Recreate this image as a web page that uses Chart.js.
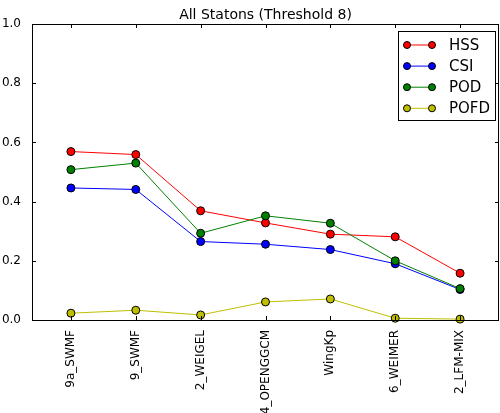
<!DOCTYPE html>
<html>
<head>
<meta charset="utf-8">
<script src="https://cdn.jsdelivr.net/npm/chart.js@4/dist/chart.umd.min.js"></script>
<style>
  html, body { margin: 0; padding: 0; background: #fff; }
  #wrap { width: 500px; height: 413px; }
</style>
</head>
<body>
<div id="wrap"><canvas id="c" width="500" height="413"></canvas></div>
<script>
var models = ["9a_SWMF", "9_SWMF", "2_WEIGEL", "4_OPENGGCM", "WingKp", "6_WEIMER", "2_LFM-MIX"];
var hss  = [0.569, 0.559, 0.369, 0.328, 0.290, 0.281, 0.158];
var csi  = [0.446, 0.441, 0.265, 0.256, 0.238, 0.190, 0.103];
var pod  = [0.508, 0.530, 0.293, 0.352, 0.327, 0.200, 0.106];
var pofd = [0.023, 0.033, 0.017, 0.061, 0.071, 0.006, 0.003];
var yTicks = [0.0, 0.2, 0.4, 0.6, 0.8, 1.0];
var title = "All Statons (Threshold 8)";

var FONT = "DejaVu Sans";

function points(vals) {
  return vals.map(function(v, i) { return {x: i, y: v}; });
}

function series(label, vals, color, order) {
  return {
    label: label,
    data: points(vals),
    borderColor: color,
    backgroundColor: color,
    borderWidth: 1,
    pointRadius: 4,
    pointBackgroundColor: color,
    pointBorderColor: "#000",
    pointBorderWidth: 1,
    tension: 0,
    clip: false,
    order: order
  };
}

var datasets = [
  series("HSS", hss, "#ff0000", 4),
  series("CSI", csi, "#0000ff", 3),
  series("POD", pod, "#008000", 2),
  series("POFD", pofd, "#bfbf00", 1)
];

// frame, inward ticks, title and legend the matplotlib way
var decor = {
  id: "decor",
  afterDraw: function(chart) {
    var ctx = chart.ctx, a = chart.chartArea;
    var xs = chart.scales.x, ys = chart.scales.y;
    ctx.save();
    ctx.strokeStyle = "#000";
    ctx.lineWidth = 1;
    ctx.beginPath();
    yTicks.forEach(function(t) {
      var y = Math.round(ys.getPixelForValue(t)) + 0.5;
      ctx.moveTo(a.left, y); ctx.lineTo(a.left + 4, y);
      ctx.moveTo(a.right, y); ctx.lineTo(a.right - 4, y);
    });
    models.forEach(function(m, i) {
      var x = Math.round(xs.getPixelForValue(i)) + 0.5;
      ctx.moveTo(x, a.bottom); ctx.lineTo(x, a.bottom - 4);
      ctx.moveTo(x, a.top); ctx.lineTo(x, a.top + 4);
    });
    ctx.stroke();
    ctx.strokeRect(Math.round(a.left) + 0.5, Math.round(a.top) + 0.5,
      Math.round(a.right - a.left) - 1, Math.round(a.bottom - a.top));

    ctx.fillStyle = "#000";
    ctx.font = "14px '" + FONT + "'";
    ctx.textAlign = "center";
    ctx.textBaseline = "alphabetic";
    ctx.fillText(title, (a.left + a.right) / 2, a.top - 5);

    // legend box
    var lx = 398.5, ly = 31.5, lw = 97, lh = 89;
    ctx.fillStyle = "#fff";
    ctx.fillRect(lx, ly, lw, lh);
    ctx.strokeRect(lx, ly, lw, lh);
    ctx.font = "15px '" + FONT + "'";
    ctx.textAlign = "left";
    ctx.textBaseline = "middle";
    datasets.forEach(function(ds, i) {
      var y = 45 + i * 21.1;
      ctx.strokeStyle = ds.borderColor;
      ctx.beginPath();
      ctx.moveTo(407, y); ctx.lineTo(432, y);
      ctx.stroke();
      [407, 432].forEach(function(px) {
        ctx.beginPath();
        ctx.arc(px, y, 3.5, 0, Math.PI * 2);
        ctx.fillStyle = ds.borderColor;
        ctx.fill();
        ctx.strokeStyle = "#000";
        ctx.stroke();
      });
      ctx.fillStyle = "#000";
      ctx.fillText(ds.label, 449, y + 1);
    });
    ctx.restore();
  }
};

new Chart(document.getElementById("c"), {
  type: "line",
  data: { datasets: datasets },
  options: {
    responsive: false,
    animation: false,
    events: [],
    layout: { autoPadding: false, padding: { top: 24, right: 1, left: 0, bottom: 0 } },
    plugins: { legend: { display: false }, title: { display: false }, tooltip: { enabled: false } },
    scales: {
      x: {
        type: "linear",
        min: -0.6,
        max: 6.6,
        grid: { display: false },
        border: { display: false },
        afterBuildTicks: function(scale) {
          scale.ticks = models.map(function(m, i) { return {value: i}; });
        },
        afterFit: function(scale) {
          scale.height = 93;
          scale.paddingLeft = 0;
          scale.paddingRight = 0;
        },
        ticks: {
          autoSkip: false,
          minRotation: 90,
          maxRotation: 90,
          padding: 2,
          color: "#000",
          font: { family: FONT, size: 12 },
          callback: function(v) { return models[v]; }
        }
      },
      y: {
        min: 0,
        max: 1,
        grid: { display: false },
        border: { display: false },
        afterBuildTicks: function(scale) {
          scale.ticks = yTicks.map(function(t) { return {value: t}; });
        },
        afterFit: function(scale) {
          scale.width = 32;
          scale.paddingTop = 0;
          scale.paddingBottom = 0;
        },
        ticks: {
          padding: 3,
          color: "#000",
          font: { family: FONT, size: 12 },
          callback: function(v) { return v.toFixed(1); }
        }
      }
    }
  },
  plugins: [decor]
});
</script>
</body>
</html>
